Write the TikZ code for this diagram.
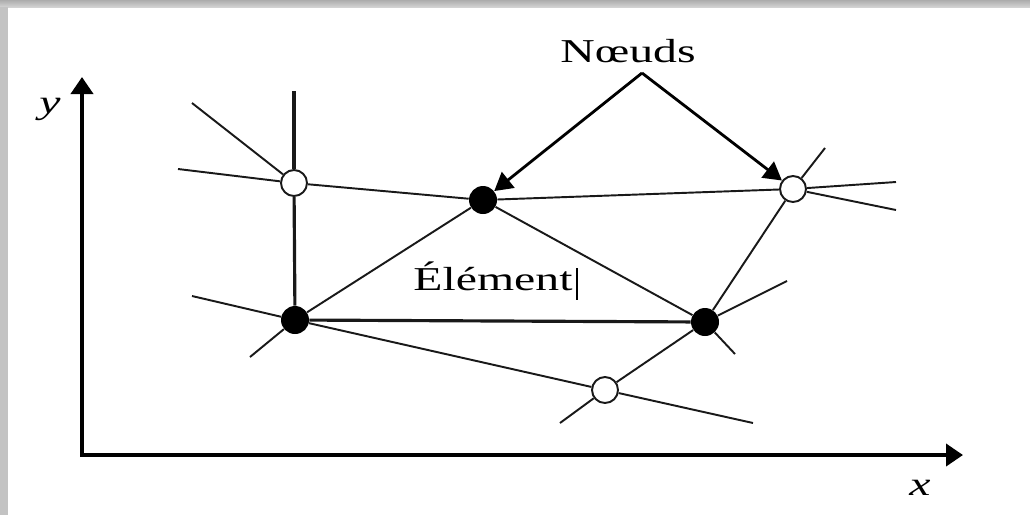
\documentclass[tikz,border=0pt]{standalone}
\usepackage{fontspec}
\setmainfont{Liberation Serif}
\usepackage{tikz}
\usetikzlibrary{arrows.meta, positioning}
\definecolor{mydark}{RGB}{25,25,25}
\definecolor{myframe}{RGB}{195,195,195}
\tikzset{
  opennode/.style={circle, draw=mydark, fill=white,
    minimum size=0.52cm, inner sep=0pt, line width=1.1pt},
  fullnode/.style={circle, fill=black,
    minimum size=0.56cm, inner sep=0pt},
  meshline/.style={line width=1.1pt, color=mydark},
  boldline/.style={line width=1.8pt, color=mydark},
  arrow/.style={-{Triangle[length=0.36cm, width=0.40cm]}, line width=1.6pt, color=black},
  axis/.style={{Triangle[length=0.34cm, width=0.44cm]}-{Triangle[length=0.34cm, width=0.44cm]},
    line width=2.2pt, color=black},
  bigtext/.style={font=\fontsize{19}{22}\selectfont, xscale=1.43, inner sep=0pt}
}

\begin{document}
\begin{tikzpicture}[x=0.02cm, y=-0.02cm]
  \useasboundingbox (0,0) rectangle (1030,515);
  % frame of the screenshot
  \shade[top color=gray!65, bottom color=gray!35] (0,0) rectangle (1030,7);
  \fill[myframe] (0,7) rectangle (8,515);

  % axes
  \coordinate (o) at (82,455);
  \coordinate (ytip) at (82,77);
  \coordinate (xtip) at (963,455);
  \draw[axis] (ytip) -- (o) -- (xtip);
  \node[bigtext] (ylab) at (50,109) {\textit{y}};
  \node[bigtext] (xlab) at (920,488) {\textit{x}};

  % nodes of the mesh
  \node[opennode] (A) at (294,183) {};
  \node[fullnode] (B) at (483,200) {};
  \node[opennode] (C) at (793,189) {};
  \node[fullnode] (D) at (295,320) {};
  \node[fullnode] (E) at (705,322) {};
  \node[opennode] (F) at (605,390) {};

  % free ends of the mesh lines
  \coordinate (a1) at (294,91);
  \coordinate (a2) at (192,103);
  \coordinate (a3) at (178,169);
  \coordinate (c1) at (825,148);
  \coordinate (c2) at (896,182);
  \coordinate (c3) at (896,210);
  \coordinate (e1) at (787,281);
  \coordinate (e2) at (735,354);
  \coordinate (f1) at (560,423);
  \coordinate (f2) at (753,423);
  \coordinate (d1) at (192,296);
  \coordinate (d2) at (250,357);

  % bold edges
  \draw[boldline] (A) -- (a1);
  \draw[boldline] (A) -- (D);
  \draw[boldline] (D) -- (E);
  % element edges
  \draw[meshline] (D) -- (B);
  \draw[meshline] (B) -- (E);
  % other edges
  \draw[meshline] (A) -- (B);
  \draw[meshline] (B) -- (C);
  \draw[meshline] (C) -- (E);
  \draw[meshline] (E) -- (F);
  \draw[meshline] (D) -- (F);
  % stubs
  \draw[meshline] (A) -- (a2);
  \draw[meshline] (A) -- (a3);
  \draw[meshline] (C) -- (c1);
  \draw[meshline] (C) -- (c2);
  \draw[meshline] (C) -- (c3);
  \draw[meshline] (E) -- (e1);
  \draw[meshline] (E) -- (e2);
  \draw[meshline] (F) -- (f1);
  \draw[meshline] (F) -- (f2);
  \draw[meshline] (D) -- (d1);
  \draw[meshline] (D) -- (d2);

  % labels
  \node[bigtext, anchor=base] (noeuds) at (628,62) {Nœuds};
  \coordinate (n0) at (642,73);
  \draw[arrow] (n0) -- (B);
  \draw[arrow] (n0) -- (C);
  \node[bigtext, anchor=base] (elem) at (493,290) {Élément};
  \draw[line width=0.6pt] (577,268) -- (577,300);
\end{tikzpicture}
\end{document}
